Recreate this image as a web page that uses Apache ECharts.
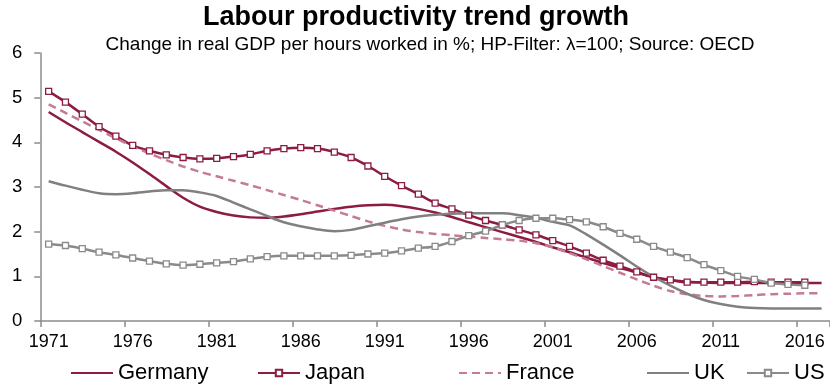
<!DOCTYPE html>
<html>
<head>
<meta charset="utf-8">
<title>Labour productivity trend growth</title>
<script src="https://cdn.jsdelivr.net/npm/echarts@6/dist/echarts.min.js"></script>
<style>
  html, body { margin: 0; padding: 0; background: #fff; }
  #chart { width: 830px; height: 384px; }
</style>
</head>
<body>
<div id="chart"></div>
<script>
// Years on the category axis
const years = [
  '1971','1972','1973','1974','1975','1976','1977','1978','1979','1980',
  '1981','1982','1983','1984','1985','1986','1987','1988','1989','1990',
  '1991','1992','1993','1994','1995','1996','1997','1998','1999','2000',
  '2001','2002','2003','2004','2005','2006','2007','2008','2009','2010',
  '2011','2012','2013','2014','2015','2016','2017'
];

// Trend growth of labour productivity, % (HP-filtered)
const germany = [
  4.68, 4.45, 4.23, 4.01, 3.79, 3.55, 3.29, 3.02, 2.76, 2.56,
  2.44, 2.36, 2.32, 2.31, 2.34, 2.39, 2.45, 2.51, 2.56, 2.59,
  2.60, 2.57, 2.51, 2.43, 2.33, 2.21, 2.10, 1.99, 1.88, 1.77,
  1.65, 1.54, 1.42, 1.30, 1.19, 1.08, 0.98, 0.91, 0.88, 0.86,
  0.85, 0.85, 0.85, 0.85, 0.85, 0.85, 0.85
];
const japan = [
  5.14, 4.90, 4.63, 4.35, 4.14, 3.93, 3.81, 3.72, 3.66, 3.63,
  3.64, 3.68, 3.73, 3.81, 3.86, 3.88, 3.86, 3.78, 3.66, 3.47,
  3.24, 3.03, 2.84, 2.64, 2.51, 2.37, 2.25, 2.15, 2.04, 1.93,
  1.80, 1.67, 1.52, 1.36, 1.23, 1.10, 0.98, 0.92, 0.87, 0.87,
  0.87, 0.87, 0.88, 0.87, 0.87, 0.87
];
const france = [
  4.85, 4.66, 4.47, 4.28, 4.09, 3.91, 3.75, 3.60, 3.46, 3.34,
  3.24, 3.14, 3.04, 2.93, 2.82, 2.71, 2.59, 2.47, 2.35, 2.23,
  2.13, 2.05, 1.99, 1.95, 1.92, 1.89, 1.86, 1.83, 1.80, 1.74,
  1.65, 1.52, 1.38, 1.23, 1.08, 0.93, 0.79, 0.67, 0.60, 0.56,
  0.55, 0.56, 0.58, 0.60, 0.61, 0.62, 0.62
];
const uk = [
  3.13, 3.03, 2.94, 2.86, 2.84, 2.86, 2.90, 2.93, 2.93, 2.88,
  2.80, 2.65, 2.50, 2.35, 2.21, 2.12, 2.05, 2.01, 2.04, 2.12,
  2.20, 2.28, 2.34, 2.38, 2.40, 2.41, 2.41, 2.41, 2.37, 2.31,
  2.22, 2.14, 1.94, 1.71, 1.47, 1.22, 0.99, 0.79, 0.61, 0.47,
  0.38, 0.32, 0.29, 0.28, 0.28, 0.28, 0.28
];
const us = [
  1.72, 1.69, 1.62, 1.54, 1.48, 1.41, 1.34, 1.28, 1.25, 1.27,
  1.30, 1.33, 1.39, 1.44, 1.46, 1.46, 1.46, 1.46, 1.47, 1.50,
  1.52, 1.57, 1.63, 1.67, 1.78, 1.91, 2.01, 2.15, 2.25, 2.30,
  2.30, 2.27, 2.22, 2.11, 1.96, 1.83, 1.67, 1.54, 1.42, 1.26,
  1.13, 1.00, 0.93, 0.85, 0.82, 0.80
];

const yTicks = [0, 1, 2, 3, 4, 5, 6];

const FONT = '"Liberation Sans", Arial, Helvetica, sans-serif';
const RED = '#8c1c40';
const PINK = '#c47c94';
const GREY_UK = '#808080';
const GREY_US = '#8a8a8a';
const AXIS = '#8c8c8c';

const chart = echarts.init(document.getElementById('chart'), null, { renderer: 'canvas' });

// One legend block per series so each entry sits at its own x position
function legendAt(name, left, plainLine) {
  const lg = {
    data: [name],
    left: left,
    top: 362,
    padding: 0,
    itemWidth: 42,
    itemHeight: 8,
    selectedMode: false,
    textStyle: { fontFamily: FONT, fontSize: 22, color: '#000' }
  };
  if (plainLine) {
    lg.itemStyle = { opacity: 0 };
  }
  return lg;
}

chart.setOption({
  animation: false,
  backgroundColor: '#fff',
  graphic: [
    {
      type: 'text',
      style: {
        text: 'Labour productivity trend growth',
        x: 416, y: 17.5,
        textAlign: 'center', textVerticalAlign: 'middle',
        font: 'bold 27px ' + FONT, fill: '#000'
      }
    },
    {
      type: 'text',
      style: {
        text: 'Change in real GDP per hours worked in %; HP-Filter: \u03bb=100; Source: OECD',
        x: 430, y: 44.5,
        textAlign: 'center', textVerticalAlign: 'middle',
        font: '19px ' + FONT, fill: '#000'
      }
    }
  ],
  legend: [
    legendAt('Germany', 70, true),
    legendAt('Japan', 257, false),
    legendAt('France', 458, true),
    legendAt('UK', 646, true),
    legendAt('US', 746, false)
  ],
  grid: { left: 40.26, top: 53, width: 793.4, height: 268, containLabel: false },
  xAxis: {
    type: 'category',
    data: years,
    boundaryGap: true,
    axisLine: { show: true, lineStyle: { color: AXIS, width: 1.5 } },
    axisTick: { show: true, interval: 4, length: 6, lineStyle: { color: AXIS, width: 1.5 } },
    axisLabel: { interval: 4, margin: 12, fontFamily: FONT, fontSize: 18, color: '#000' },
    splitLine: { show: false }
  },
  yAxis: {
    type: 'value',
    min: yTicks[0],
    max: yTicks[yTicks.length - 1],
    interval: 1,
    axisLine: { show: true, lineStyle: { color: AXIS, width: 1.5 } },
    axisTick: { show: true, length: 6, lineStyle: { color: AXIS, width: 1.5 } },
    axisLabel: { margin: 18, fontFamily: FONT, fontSize: 18.5, color: '#000' },
    splitLine: { show: false }
  },
  series: [
    {
      name: 'Germany', type: 'line', data: germany, smooth: 0.3,
      symbol: 'none',
      lineStyle: { color: RED, width: 2.5 },
      itemStyle: { color: RED }
    },
    {
      name: 'Japan', type: 'line', data: japan, smooth: 0.3,
      symbol: 'rect', symbolSize: 6, showAllSymbol: true,
      lineStyle: { color: RED, width: 2.5 },
      itemStyle: { color: '#fff', borderColor: RED, borderWidth: 1.3 }
    },
    {
      name: 'France', type: 'line', data: france, smooth: 0.3,
      symbol: 'none',
      lineStyle: { color: PINK, width: 2.5, type: [8, 5] },
      itemStyle: { color: PINK }
    },
    {
      name: 'UK', type: 'line', data: uk, smooth: 0.3,
      symbol: 'none',
      lineStyle: { color: GREY_UK, width: 2.5 },
      itemStyle: { color: GREY_UK }
    },
    {
      name: 'US', type: 'line', data: us, smooth: 0.3,
      symbol: 'rect', symbolSize: 6, showAllSymbol: true,
      lineStyle: { color: GREY_US, width: 2.5 },
      itemStyle: { color: '#fff', borderColor: GREY_US, borderWidth: 1.3 }
    }
  ]
});
</script>
</body>
</html>
